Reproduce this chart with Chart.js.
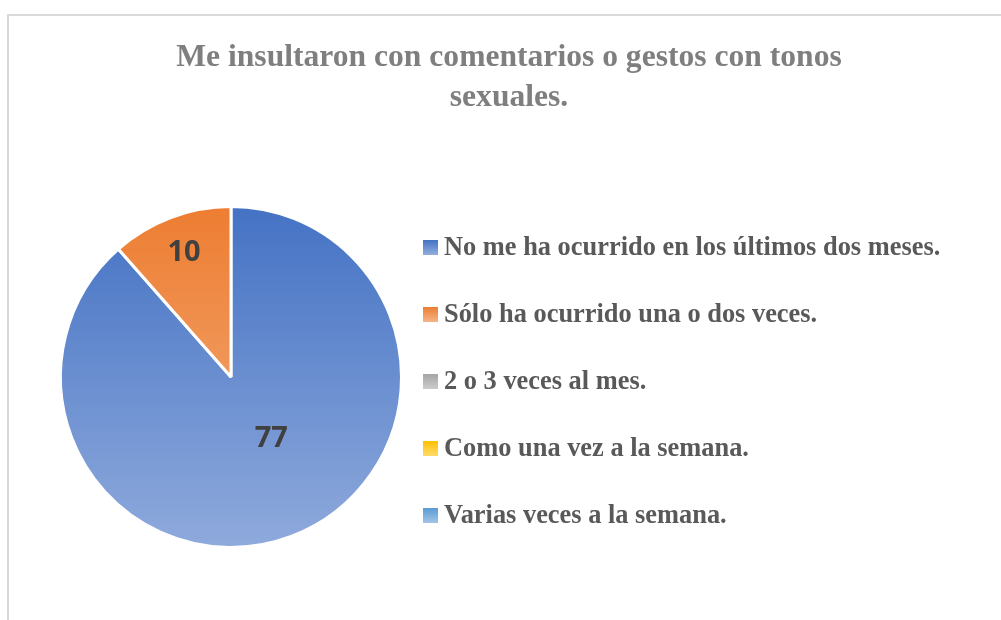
<!DOCTYPE html>
<html>
<head>
<meta charset="utf-8">
<script src="https://cdn.jsdelivr.net/npm/chart.js@4.4.1/dist/chart.umd.min.js"></script>
<style>
  html, body { margin: 0; padding: 0; background: #ffffff; }
  #frame { position: absolute; left: 7px; top: 14px; width: 1100px; height: 700px;
           border-left: 2px solid #d9d9d9; border-top: 2px solid #d9d9d9; }
  #wrap { position: absolute; left: 0; top: 0; width: 1001px; height: 620px; overflow: hidden; }
  canvas { position: absolute; left: 0; top: 0; }
</style>
</head>
<body>
<div id="wrap">
  <div id="frame"></div>
  <canvas id="c" width="1001" height="620"></canvas>
</div>
<script>
const titleLines = ["Me insultaron con comentarios o gestos con tonos", "sexuales."];
const categories = [
  "No me ha ocurrido en los últimos dos meses.",
  "Sólo ha ocurrido una o dos veces.",
  "2 o 3 veces al mes.",
  "Como una vez a la semana.",
  "Varias veces a la semana."
];
const values = [77, 10, 0, 0, 0];
const colorsTop = ["#4472c4", "#ed7d31", "#a5a5a5", "#ffc000", "#5b9bd5"];
const colorsBottom = ["#8faadc", "#f4b183", "#c9c9c9", "#ffd966", "#9dc3e6"];

function sliceGradient(context) {
  const chart = context.chart;
  const area = chart.chartArea;
  if (!area) return colorsTop[context.dataIndex];
  const i = context.dataIndex;
  const meta = chart.getDatasetMeta(0);
  const arc = meta.data[i];
  const cy = (area.top + area.bottom) / 2;
  const r = arc && arc.outerRadius ? arc.outerRadius : Math.min(area.width, area.height) / 2;
  let y0 = cy - r, y1 = cy + r;
  if (arc && arc.startAngle !== undefined) {
    const s = arc.startAngle, e = arc.endAngle;
    const pts = [cy, cy + r * Math.sin(s), cy + r * Math.sin(e)];
    for (let k = -4; k <= 4; k++) {
      const a = Math.PI / 2 + k * Math.PI;
      if (a > s && a < e) pts.push(cy + r * Math.sin(a));
    }
    y0 = Math.min(...pts); y1 = Math.max(...pts);
  }
  if (y1 - y0 < 1) y1 = y0 + 1;
  const g = chart.ctx.createLinearGradient(0, y0, 0, y1);
  g.addColorStop(0, colorsTop[i]);
  g.addColorStop(1, colorsBottom[i]);
  return g;
}

const overlay = {
  id: 'overlay',
  afterDatasetsDraw(chart) {
    const ctx = chart.ctx;
    const meta = chart.getDatasetMeta(0);
    const total = values.reduce((a, b) => a + b, 0);
    ctx.save();
    ctx.font = "bold 29px 'Open Sans', sans-serif";
    ctx.fillStyle = "#404040";
    ctx.textAlign = "center";
    ctx.textBaseline = "middle";
    meta.data.forEach((arc, i) => {
      if (!values[i]) return;
      const p = arc.getProps(['x', 'y', 'startAngle', 'endAngle', 'outerRadius'], true);
      const big = values[i] / total >= 0.25;
      const mid = (p.startAngle + p.endAngle) / 2 - (big ? 0.22 : 0);
      const d = p.outerRadius * (big ? 0.43 : 0.78);
      ctx.fillText(String(values[i]), p.x + d * Math.cos(mid), p.y + d * Math.sin(mid));
    });
    ctx.restore();
  },
  afterDraw(chart) {
    const ctx = chart.ctx;
    ctx.save();
    ctx.font = "bold 31.6px 'Liberation Serif', 'Times New Roman', serif";
    ctx.fillStyle = "#7f7f7f";
    ctx.textAlign = "center";
    ctx.textBaseline = "middle";
    titleLines.forEach((t, k) => ctx.fillText(t, 509, 58 + k * 40));
    ctx.font = "bold 26.4px 'Liberation Serif', 'Times New Roman', serif";
    ctx.textAlign = "left";
    categories.forEach((label, i) => {
      const yc = 247 + i * 67;
      const g = ctx.createLinearGradient(0, yc - 7, 0, yc + 7);
      g.addColorStop(0, colorsTop[i]);
      g.addColorStop(1, colorsBottom[i]);
      ctx.fillStyle = g;
      ctx.fillRect(423, yc - 7, 15, 15);
      ctx.fillStyle = "#595959";
      ctx.fillText(label, 444, yc + 1);
    });
    ctx.restore();
  }
};

new Chart(document.getElementById('c'), {
  type: 'pie',
  data: {
    labels: categories,
    datasets: [{
      data: values,
      backgroundColor: sliceGradient,
      borderColor: '#ffffff',
      borderWidth: 3
    }]
  },
  options: {
    responsive: false,
    devicePixelRatio: 1,
    animation: false,
    layout: { padding: { left: 59, top: 205, right: 598, bottom: 71 } },
    plugins: {
      legend: { display: false },
      title: { display: false },
      tooltip: { enabled: false }
    }
  },
  plugins: [overlay]
});
</script>
</body>
</html>
